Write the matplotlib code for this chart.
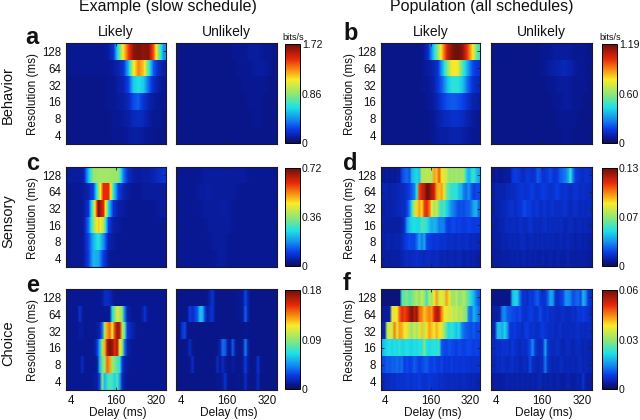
import matplotlib
matplotlib.use("Agg")
import matplotlib.pyplot as plt
from matplotlib.colors import LinearSegmentedColormap
import numpy as np

plt.rcParams['font.family'] = ['Liberation Sans', 'DejaVu Sans']

W, H = 640, 420

resolutions = [128, 64, 32, 16, 8, 4]
delay_ticks = [4, 160, 320]

# Heat values in percent of each panel's colour scale, rows run 128 ms down to 4 ms
a_likely = [
    [5, 5, 5, 5, 5, 5, 5, 5, 6, 12, 40, 65, 82, 96, 98, 96, 97, 80, 50, 25],
    [5, 5, 5, 5, 5, 5, 5, 5, 5, 6, 8, 12, 30, 62, 75, 68, 42, 18, 10, 7],
    [4, 4, 4, 4, 4, 4, 4, 4, 5, 5, 7, 8, 15, 33, 37, 33, 20, 10, 7, 5],
    [4, 4, 4, 4, 4, 4, 4, 4, 5, 5, 6, 7, 9, 16, 18, 12, 8, 6, 5, 5],
    [4, 4, 4, 4, 4, 4, 4, 4, 4, 5, 5, 6, 7, 9, 10, 9, 7, 5, 5, 4],
    [4, 4, 4, 4, 4, 4, 4, 4, 4, 5, 5, 5, 6, 7, 7, 6, 5, 5, 4, 4],
]
a_unlikely = [
    [4, 4, 4, 4, 4, 4, 4, 4, 4, 4, 4, 5, 5, 5, 6, 6, 6, 5, 5, 4],
    [4, 4, 4, 4, 4, 4, 4, 4, 4, 4, 4, 4, 5, 5, 5, 6, 6, 6, 5, 4],
    [4, 4, 4, 4, 4, 4, 4, 4, 4, 4, 4, 4, 4, 5, 5, 5, 5, 5, 4, 4],
    [4, 4, 4, 4, 4, 4, 4, 4, 4, 4, 4, 4, 4, 4, 5, 5, 5, 4, 4, 4],
    [4, 4, 4, 4, 4, 4, 4, 4, 4, 4, 4, 4, 4, 4, 4, 5, 5, 4, 4, 4],
    [4, 4, 4, 4, 4, 4, 4, 4, 4, 4, 4, 4, 4, 4, 4, 4, 4, 4, 4, 4],
]
b_likely = [
    [4, 4, 4, 4, 4, 4, 4, 4, 5, 10, 30, 50, 72, 90, 98, 100, 96, 82, 65, 42],
    [4, 4, 4, 4, 4, 4, 4, 4, 5, 6, 8, 12, 30, 50, 65, 62, 42, 28, 16, 12],
    [4, 4, 4, 4, 4, 4, 4, 4, 5, 5, 7, 12, 20, 32, 38, 38, 32, 20, 12, 9],
    [4, 4, 4, 4, 4, 4, 4, 4, 4, 5, 6, 9, 14, 17, 18, 17, 15, 11, 8, 7],
    [4, 4, 4, 4, 4, 4, 4, 4, 4, 4, 5, 7, 9, 10, 11, 11, 10, 8, 6, 5],
    [4, 4, 4, 4, 4, 4, 4, 4, 4, 4, 5, 6, 7, 7, 8, 8, 7, 6, 5, 5],
]
b_unlikely = [
    [4, 4, 4, 4, 4, 4, 4, 4, 4, 4, 5, 5, 6, 6, 6, 6, 5, 5, 5, 4],
    [4, 4, 4, 4, 4, 4, 4, 4, 4, 4, 5, 6, 7, 8, 9, 8, 6, 5, 5, 4],
    [4, 4, 4, 4, 4, 4, 4, 4, 4, 4, 4, 5, 5, 6, 6, 6, 5, 5, 5, 4],
    [4, 4, 4, 4, 4, 4, 4, 4, 4, 4, 4, 4, 5, 5, 6, 6, 5, 5, 4, 4],
    [4, 4, 4, 4, 4, 4, 4, 4, 4, 4, 4, 4, 4, 5, 5, 5, 5, 4, 4, 4],
    [4, 4, 4, 4, 4, 4, 4, 4, 4, 4, 4, 4, 4, 4, 5, 5, 4, 4, 4, 4],
]
c_likely = [
    [6, 6, 6, 7, 30, 50, 52, 52, 52, 51, 50, 22, 10, 7, 6, 7, 7, 8, 10, 12],
    [5, 5, 5, 6, 8, 15, 50, 85, 85, 38, 14, 8, 6, 5, 5, 6, 6, 6, 6, 6],
    [5, 5, 5, 6, 12, 50, 98, 85, 35, 12, 7, 6, 5, 5, 5, 5, 5, 5, 6, 6],
    [5, 5, 5, 6, 20, 50, 68, 55, 14, 7, 6, 5, 5, 5, 5, 5, 5, 5, 5, 5],
    [5, 5, 5, 6, 15, 30, 38, 25, 8, 6, 5, 5, 5, 5, 5, 5, 5, 5, 5, 5],
    [5, 5, 5, 6, 14, 30, 28, 14, 6, 5, 5, 5, 5, 5, 5, 5, 5, 5, 5, 5],
]
c_unlikely = [
    [5, 5, 5, 5, 5, 6, 6, 6, 6, 6, 6, 6, 6, 6, 5, 5, 5, 5, 5, 5],
    [5, 5, 5, 5, 6, 6, 7, 6, 6, 6, 6, 6, 5, 5, 5, 5, 5, 5, 5, 5],
    [5, 5, 5, 5, 5, 6, 6, 6, 6, 7, 6, 5, 5, 5, 5, 5, 5, 5, 5, 5],
    [5, 5, 5, 5, 5, 5, 6, 6, 6, 6, 6, 5, 5, 5, 5, 5, 5, 5, 5, 5],
    [5, 5, 5, 5, 5, 5, 5, 6, 6, 6, 5, 5, 5, 5, 5, 5, 5, 5, 5, 5],
    [5, 5, 5, 5, 5, 5, 5, 5, 6, 6, 5, 5, 5, 5, 5, 5, 5, 5, 5, 5],
]
d_likely = [
    [5, 5, 6, 5, 6, 5, 6, 6, 15, 18, 20, 17, 30, 33, 35, 32, 55, 54, 56, 55,
     55, 72, 68, 80, 65, 60, 58, 50, 52, 50, 53, 50, 52, 50, 35, 28, 35, 40, 32, 28],
    [8, 8, 8, 7, 8, 8, 8, 9, 9, 10, 12, 14, 18, 22, 40, 82, 88, 90, 100, 98,
     92, 88, 72, 68, 72, 60, 48, 42, 38, 38, 38, 32, 30, 22, 20, 25, 18, 14, 16, 16],
    [7, 7, 8, 7, 8, 8, 9, 9, 10, 10, 14, 22, 40, 55, 66, 72, 65, 82, 85, 78,
     62, 52, 58, 45, 38, 42, 35, 30, 24, 22, 18, 16, 17, 16, 18, 18, 22, 28, 30, 20],
    [7, 7, 7, 7, 7, 7, 7, 7, 8, 12, 25, 32, 35, 36, 35, 35, 42, 40, 38, 32,
     28, 30, 28, 22, 23, 22, 15, 14, 15, 16, 14, 15, 14, 13, 14, 15, 14, 13, 14, 14],
    [7, 7, 8, 8, 7, 8, 8, 8, 9, 12, 14, 16, 15, 15, 20, 28, 22, 28, 15, 14,
     13, 12, 13, 12, 11, 12, 11, 10, 11, 10, 10, 11, 10, 10, 11, 10, 9, 10, 9, 9],
    [6, 6, 7, 6, 7, 7, 7, 7, 8, 9, 10, 9, 10, 10, 11, 10, 10, 9, 10, 10,
     9, 9, 10, 9, 8, 9, 8, 8, 9, 8, 8, 9, 8, 7, 8, 8, 7, 8, 7, 7],
]
d_unlikely = [
    [5, 5, 6, 5, 5, 6, 6, 6, 12, 14, 13, 12, 10, 11, 13, 12, 11, 12, 18, 16,
     12, 12, 14, 16, 13, 12, 14, 18, 20, 22, 28, 38, 22, 14, 12, 11, 10, 12, 11, 10],
    [7, 7, 8, 8, 8, 8, 9, 9, 10, 10, 11, 12, 13, 11, 12, 13, 14, 12, 11, 12,
     14, 13, 12, 11, 12, 13, 14, 12, 11, 12, 11, 10, 11, 12, 11, 10, 11, 10, 10, 9],
    [7, 7, 8, 8, 9, 9, 10, 11, 12, 10, 11, 12, 14, 16, 13, 14, 11, 12, 13, 10,
     11, 12, 10, 11, 12, 10, 11, 10, 11, 12, 10, 9, 10, 11, 10, 9, 10, 9, 10, 9],
    [7, 7, 7, 8, 8, 9, 10, 9, 10, 10, 9, 11, 10, 9, 10, 12, 10, 9, 10, 9,
     10, 11, 9, 10, 9, 10, 9, 10, 9, 8, 9, 10, 9, 8, 9, 9, 8, 9, 8, 8],
    [6, 6, 7, 7, 8, 8, 8, 9, 8, 9, 8, 9, 10, 9, 8, 9, 9, 8, 9, 8,
     9, 8, 9, 8, 9, 8, 8, 9, 8, 8, 9, 8, 8, 7, 8, 8, 7, 8, 7, 7],
    [6, 6, 6, 6, 7, 7, 7, 7, 8, 7, 8, 7, 8, 8, 7, 8, 7, 8, 7, 7,
     8, 7, 7, 8, 7, 7, 8, 7, 7, 7, 8, 7, 7, 7, 7, 7, 7, 7, 6, 6],
]
e_likely = [
    [5, 5, 5, 5, 5, 5, 5, 5, 5, 5, 5, 5, 5, 5, 6, 10, 10, 9, 7, 5,
     5, 5, 5, 5, 5, 5, 5, 5, 5, 5, 5, 5, 5, 5, 5, 5, 5, 5, 5, 5],
    [5, 5, 5, 5, 5, 12, 6, 5, 5, 5, 5, 5, 5, 5, 5, 5, 5, 6, 35, 48,
     60, 55, 48, 22, 8, 6, 5, 5, 5, 5, 6, 12, 6, 5, 5, 5, 5, 5, 5, 5],
    [5, 5, 5, 5, 5, 6, 6, 5, 5, 5, 5, 5, 6, 8, 20, 55, 72, 78, 62, 82,
     95, 90, 55, 45, 14, 10, 8, 6, 5, 5, 5, 5, 5, 5, 5, 5, 5, 5, 5, 5],
    [5, 5, 5, 5, 5, 5, 5, 5, 5, 5, 5, 6, 14, 30, 52, 70, 92, 98, 95, 85,
     92, 62, 50, 20, 8, 6, 5, 5, 5, 5, 5, 5, 5, 5, 5, 5, 5, 5, 5, 5],
    [5, 5, 5, 5, 5, 5, 10, 5, 5, 5, 5, 5, 7, 30, 45, 52, 78, 72, 52, 48,
     42, 38, 14, 7, 6, 5, 5, 5, 5, 5, 5, 5, 5, 5, 5, 5, 5, 5, 5, 5],
    [5, 5, 5, 5, 5, 5, 5, 5, 5, 5, 5, 6, 7, 16, 48, 30, 38, 42, 40, 34,
     42, 28, 10, 6, 5, 5, 5, 5, 5, 5, 5, 5, 5, 5, 5, 5, 5, 5, 5, 5],
]
e_unlikely = [
    [4, 4, 4, 4, 4, 4, 4, 4, 4, 4, 4, 4, 5, 8, 12, 5, 4, 4, 4, 4,
     4, 4, 4, 4, 5, 5, 6, 15, 8, 4, 4, 4, 4, 4, 4, 4, 4, 4, 4, 4],
    [4, 4, 4, 4, 5, 14, 10, 14, 18, 32, 30, 14, 6, 10, 12, 5, 4, 4, 4, 4,
     4, 4, 4, 4, 5, 5, 6, 18, 8, 4, 4, 4, 4, 4, 4, 4, 4, 4, 4, 4],
    [4, 4, 12, 15, 5, 4, 4, 4, 4, 4, 4, 4, 4, 4, 4, 4, 4, 4, 4, 4,
     4, 4, 4, 4, 4, 4, 4, 5, 4, 4, 4, 4, 4, 4, 4, 4, 4, 4, 4, 4],
    [4, 4, 4, 4, 5, 10, 5, 4, 4, 4, 4, 4, 4, 4, 4, 4, 5, 8, 20, 18,
     6, 5, 18, 6, 5, 4, 6, 22, 8, 4, 4, 4, 4, 4, 4, 4, 4, 4, 4, 4],
    [4, 4, 4, 4, 4, 5, 10, 4, 4, 4, 4, 4, 4, 4, 4, 4, 10, 5, 10, 6,
     5, 4, 6, 5, 4, 4, 6, 14, 6, 4, 4, 5, 12, 5, 4, 4, 4, 4, 4, 4],
    [4, 4, 4, 4, 4, 4, 4, 4, 4, 4, 4, 4, 4, 4, 4, 4, 5, 5, 6, 12,
     5, 4, 4, 4, 5, 4, 5, 10, 5, 4, 4, 5, 10, 4, 4, 4, 4, 4, 4, 4],
]
f_likely = [
    [3, 3, 3, 3, 3, 3, 3, 3, 42, 45, 48, 42, 46, 50, 55, 48, 58, 50, 38, 55,
     52, 62, 72, 58, 62, 58, 72, 65, 52, 50, 56, 48, 50, 55, 48, 42, 35, 30, 22, 18],
    [6, 6, 6, 7, 60, 65, 62, 78, 85, 82, 85, 92, 98, 90, 95, 78, 75, 68, 72, 75,
     72, 85, 92, 90, 75, 65, 62, 58, 60, 55, 58, 52, 55, 50, 48, 22, 20, 30, 25, 20],
    [8, 8, 55, 60, 58, 75, 60, 72, 70, 62, 65, 55, 50, 58, 52, 60, 68, 55, 65, 72,
     68, 62, 70, 65, 60, 52, 42, 35, 38, 35, 32, 36, 25, 20, 18, 17, 16, 18, 15, 16],
    [30, 33, 35, 36, 34, 36, 35, 38, 34, 35, 37, 35, 34, 36, 35, 38, 36, 48, 37, 35,
     36, 38, 36, 40, 18, 16, 15, 17, 16, 15, 14, 16, 15, 14, 15, 16, 15, 14, 15, 14],
    [15, 16, 18, 17, 19, 18, 20, 18, 20, 14, 16, 14, 15, 18, 16, 14, 15, 17, 18, 15,
     14, 16, 14, 13, 15, 12, 13, 12, 14, 12, 13, 12, 12, 13, 12, 12, 11, 12, 11, 12],
    [8, 9, 10, 10, 11, 10, 12, 11, 12, 11, 13, 12, 11, 13, 12, 14, 12, 11, 12, 13,
     12, 11, 12, 10, 11, 10, 10, 9, 10, 9, 10, 9, 9, 10, 9, 9, 8, 9, 8, 8],
]
f_unlikely = [
    [4, 4, 4, 4, 4, 4, 4, 4, 30, 35, 33, 20, 11, 12, 10, 14, 12, 16, 18, 13,
     11, 12, 18, 28, 26, 12, 10, 13, 15, 24, 25, 22, 16, 18, 20, 16, 30, 24, 13, 11],
    [7, 7, 7, 8, 22, 24, 18, 17, 16, 15, 14, 16, 12, 11, 12, 14, 13, 11, 12, 16,
     12, 11, 13, 10, 11, 10, 9, 10, 11, 10, 9, 10, 11, 10, 13, 12, 14, 12, 11, 9],
    [8, 8, 30, 32, 28, 35, 25, 13, 12, 14, 11, 12, 10, 13, 14, 11, 12, 11, 10, 12,
     14, 12, 11, 10, 11, 9, 10, 11, 9, 10, 9, 10, 9, 10, 11, 9, 10, 9, 10, 9],
    [10, 9, 11, 10, 12, 11, 12, 10, 13, 11, 10, 9, 11, 10, 12, 16, 24, 13, 10, 9,
     11, 28, 12, 10, 9, 10, 11, 9, 8, 9, 10, 9, 8, 9, 10, 9, 8, 9, 8, 8],
    [9, 8, 10, 9, 11, 10, 9, 10, 11, 9, 10, 8, 9, 10, 9, 16, 10, 9, 8, 9,
     10, 22, 11, 9, 8, 9, 8, 10, 9, 8, 9, 8, 9, 8, 9, 10, 8, 9, 8, 8],
    [6, 6, 7, 6, 7, 7, 8, 7, 8, 7, 8, 7, 8, 7, 8, 7, 8, 7, 8, 9,
     7, 8, 7, 8, 7, 7, 8, 7, 6, 7, 8, 7, 6, 7, 8, 7, 12, 7, 6, 6],
]

panels = ['a', 'b', 'c', 'd', 'e', 'f']
likely = [a_likely, b_likely, c_likely, d_likely, e_likely, f_likely]
unlikely = [a_unlikely, b_unlikely, c_unlikely, d_unlikely, e_unlikely, f_unlikely]
scale_max = [1.72, 1.19, 0.72, 0.13, 0.18, 0.06]
scale_labels = [['0', '0.86', '1.72'], ['0', '0.60', '1.19'],
                ['0', '0.36', '0.72'], ['0', '0.07', '0.13'],
                ['0', '0.09', '0.18'], ['0', '0.03', '0.06']]
row_names = ['Behavior', 'Sensory', 'Choice']

# colours picked off the reference colour bar, a duller jet
cmap_stops = [0, 0.05, 0.14, 0.24, 0.36, 0.49, 0.64, 0.73, 0.85, 1]
cmap_rgb = [(15, 15, 90), (8, 25, 150), (10, 60, 230), (20, 140, 240), (30, 225, 230),
            (140, 230, 120), (250, 235, 40), (250, 150, 20), (230, 40, 10), (110, 15, 10)]
dull_jet = LinearSegmentedColormap.from_list(
    'dull_jet', [(s, tuple(c / 255 for c in rgb)) for s, rgb in zip(cmap_stops, cmap_rgb)])


def px_axes(fig, x0, y0, x1, y1):
    """Axes from pixel box, y counted from the top of the image."""
    return fig.add_axes([x0 / W, 1 - y1 / H, (x1 - x0) / W, (y1 - y0) / H])


def px_text(fig, x, y, s, **kw):
    kw.setdefault('ha', 'center')
    kw.setdefault('va', 'center')
    return fig.text(x / W, 1 - y / H, s, **kw)


def draw_heat(ax, rows, vmax, show_x, show_y):
    # every row gets its own image, smooth along delay and sharp between rows
    for i, row in enumerate(rows):
        vals = np.array([row]) / 100 * vmax
        im = ax.imshow(vals, extent=(0, 320, i + 1, i), cmap=dull_jet, vmin=0, vmax=vmax,
                       aspect='auto', interpolation='bilinear')
    ax.set_xlim(0, 320)
    ax.set_ylim(6, 0)
    ax.set_xticks(delay_ticks)
    ax.set_yticks(np.arange(6) + 0.5)
    ax.tick_params(direction='in', length=2, width=0.6, top=True, right=True,
                   labelsize=8.3, pad=3.5, color='#222222', labelcolor='#111111')
    if show_y:
        ax.set_yticklabels(resolutions)
    else:
        ax.set_yticklabels([])
    if show_x:
        labels = ax.set_xticklabels(delay_ticks)
        labels[0].set_ha('left')
        labels[2].set_ha('right')
    else:
        ax.set_xticklabels([])
    for s in ax.spines.values():
        s.set_linewidth(0.8)
        s.set_color('#1a1a2a')
    return im


fig = plt.figure(figsize=(W / 100, H / 100), dpi=100)

left_boxes = [(66, 166, 176, 277, 285, 300), (381, 480, 491, 592, 602, 617)]
row_boxes = [(43, 144), (167, 267), (289, 390)]
letter_pos = [(32, 37), (351, 33), (33, 164), (350, 164), (33, 285), (347, 284)]

for n in range(6):
    col = n % 2
    rowi = n // 2
    x0, x1, x2, x3, cx0, cx1 = left_boxes[col]
    y0, y1 = row_boxes[rowi]
    bottom = rowi == 2

    ax1 = px_axes(fig, x0, y0, x1, y1)
    draw_heat(ax1, likely[n], scale_max[n], bottom, True)
    ax2 = px_axes(fig, x2, y0, x3, y1)
    im = draw_heat(ax2, unlikely[n], scale_max[n], bottom, False)

    cax = px_axes(fig, cx0, y0 + 1, cx1, y1 - 1)
    cb = fig.colorbar(im, cax=cax, ticks=[0, scale_max[n] / 2, scale_max[n]])
    cb.ax.set_yticklabels(scale_labels[n])
    cb.ax.tick_params(length=0, pad=1.5, labelsize=7.6, labelcolor='#111111')
    cb.outline.set_linewidth(0.7)

    # y label sits left of the tick labels
    px_text(fig, x0 - 33 if col == 0 else x0 - 31, (y0 + y1) / 2 + 1, 'Resolution (ms)',
            rotation=90, fontsize=8.4, color='#111111')
    px_text(fig, letter_pos[n][0], letter_pos[n][1], panels[n],
            fontsize=17, fontweight='bold', color='#111111')

    if bottom:
        px_text(fig, (x0 + x1) / 2 + 2, 413, 'Delay (ms)', fontsize=8.6, color='#111111')
        px_text(fig, (x2 + x3) / 2 + 2, 413, 'Delay (ms)', fontsize=8.6, color='#111111')
    if rowi == 0:
        px_text(fig, (x0 + x1) / 2, 32, 'Likely', fontsize=10, color='#111111')
        px_text(fig, (x2 + x3) / 2, 32, 'Unlikely', fontsize=10, color='#111111')
        px_text(fig, (cx0 + cx1) / 2 + 1, 37, 'bits/s', fontsize=6.6, color='#111111')

px_text(fig, 168, 7, 'Example (slow schedule)', fontsize=11.5, color='#111111')
px_text(fig, 482, 7, 'Population (all schedules)', fontsize=11.5, color='#111111')

for name, yc in zip(row_names, [95, 221, 343]):
    px_text(fig, 8, yc, name, rotation=90, fontsize=10.5, color='#111111')

fig.savefig('out.png', dpi=100)
